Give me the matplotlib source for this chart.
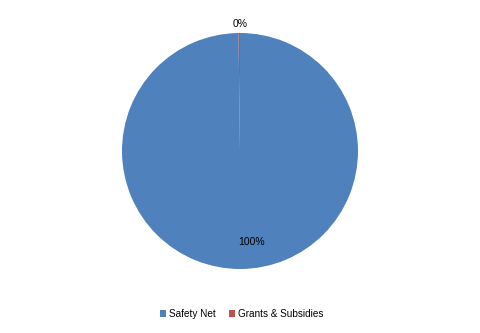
import matplotlib
matplotlib.use("Agg")
import matplotlib.pyplot as plt
import numpy as np

categories = ["Safety Net", "Grants & Subsidies"]
values = [99.8, 0.2]
pct_labels = ["100%", "0%"]
colors = ["#4F81BD", "#C0504D"]

plt.rcParams['font.family'] = ['Liberation Sans', 'DejaVu Sans']

fig = plt.figure(figsize=(4.8, 3.33), dpi=100)
ax = fig.add_axes([122 / 480, (333 - 269) / 333, 236 / 480, 236 / 333])

wedges, _ = ax.pie(values, colors=colors, startangle=90, counterclock=False,
                   wedgeprops=dict(linewidth=0))
ax.set_xlim(-1, 1)
ax.set_ylim(-1, 1)
ax.set_aspect('equal')

# percent labels: big slice inside, tiny slice outside
ax.text(0.1, -0.77, pct_labels[0], ha='center', va='center', fontsize=7.5)
ax.text(0.0, 1.08, pct_labels[1], ha='center', va='center', fontsize=7.5)

fig.legend(wedges, categories, loc='center', bbox_to_anchor=(242 / 480, 1 - 314 / 333),
           ncol=2, frameon=False, fontsize=7.2, handlelength=0.6, handleheight=0.6,
           columnspacing=1.3, handletextpad=0.3)

fig.savefig("out.png", dpi=100)
